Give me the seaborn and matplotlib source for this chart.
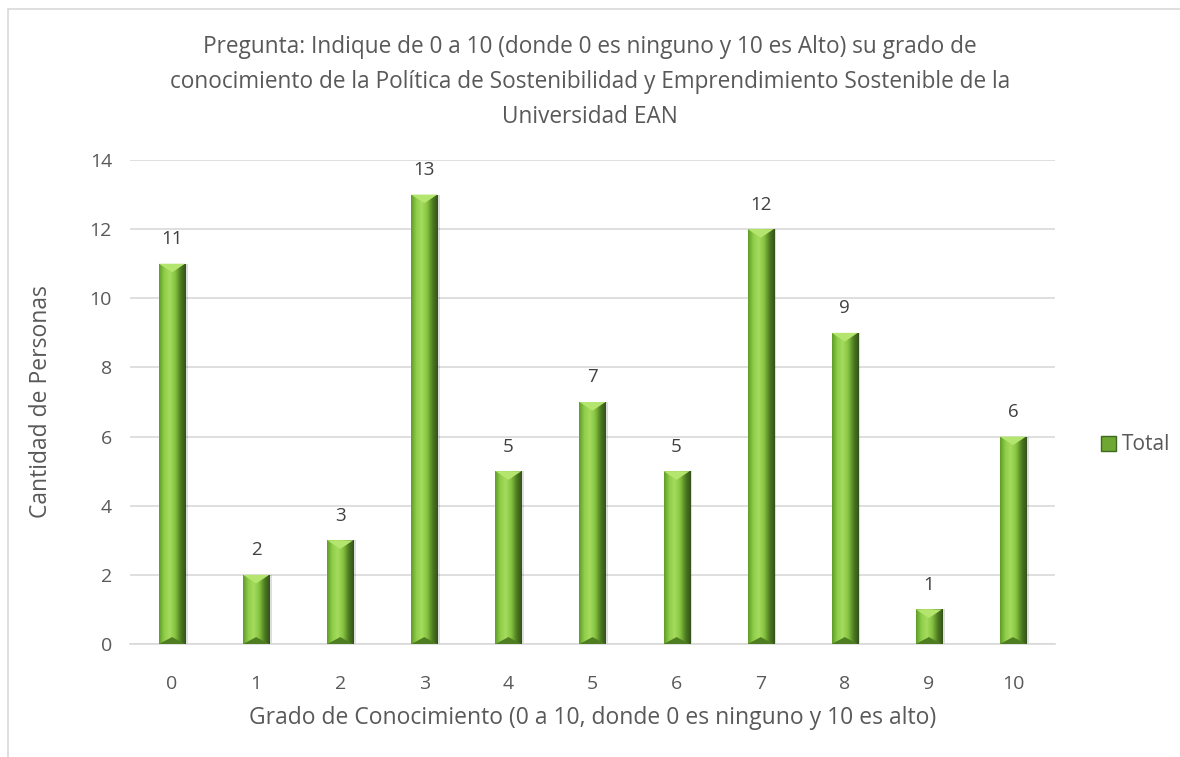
import matplotlib
matplotlib.use("Agg")
import matplotlib.pyplot as plt
import seaborn as sns
import numpy as np
import pandas as pd
from matplotlib.patches import Rectangle, Patch
from matplotlib.colors import LinearSegmentedColormap

categories = ["0", "1", "2", "3", "4", "5", "6", "7", "8", "9", "10"]
values = [11, 2, 3, 13, 5, 7, 5, 12, 9, 1, 6]
yticks = [0, 2, 4, 6, 8, 10, 12, 14]

title = ("Pregunta: Indique de 0 a 10 (donde 0 es ninguno y 10 es Alto) su grado de\n"
         "conocimiento de la Política de Sostenibilidad y Emprendimiento Sostenible de la\n"
         "Universidad EAN")
xlabel = "Grado de Conocimiento (0 a 10, donde 0 es ninguno y 10 es alto)"
ylabel = "Cantidad de Personas"
series_name = "Total"

sns.set_theme(style="white")
plt.rcParams['font.family'] = ['Open Sans', 'DejaVu Sans']

df = pd.DataFrame({"cat": categories, "val": values})

fig = plt.figure(figsize=(11.8, 7.57), dpi=100)
ax = fig.add_axes([130/1180, 1 - 644/757, (1055-130)/1180, (644-160)/757])

sns.barplot(data=df, x="cat", y="val", order=categories, color="#86c441",
            width=0.31, ax=ax, saturation=1, edgecolor="none", zorder=3)

# gradient overlay on each bar (cylinder-like shading)
cmap = LinearSegmentedColormap.from_list(
    "g", ["#5e9a28", "#8fce4a", "#a6dc5e", "#86c441", "#4f7d22", "#33501a"])
grad = np.linspace(0, 1, 256).reshape(1, -1)
for p in ax.patches:
    x0, y0 = p.get_x(), p.get_y()
    w, h = p.get_width(), p.get_height()
    sh = Rectangle((x0 + w * 0.1, y0), w, h, facecolor="#000000", alpha=0.13,
                   zorder=2, edgecolor="none")
    ax.add_patch(sh)
    im = ax.imshow(grad, extent=[x0, x0 + w, y0, y0 + h], aspect="auto",
                   cmap=cmap, zorder=4, interpolation="bicubic")
    im.set_clip_path(p)
    ax.fill([x0, x0 + w, x0 + w / 2], [y0 + h, y0 + h, y0 + h - 0.25],
            color="#b4e56e", zorder=5, lw=0)
    ax.fill([x0, x0 + w, x0 + w / 2], [y0, y0, y0 + 0.2],
            color="#4f7d22", zorder=5, lw=0)
    ax.text(x0 + w / 2, y0 + h + 0.45, f"{int(h)}", ha="center", va="bottom",
            fontsize=13.5, color="#404040", zorder=6)

ax.set_xlim(-0.5, len(categories) - 0.5)
ax.set_ylim(0, 14)
ax.set_yticks(yticks)
ax.set_yticklabels([str(t) for t in yticks])
ax.yaxis.grid(True, color="#d9d9d9", lw=1.2, zorder=0)
ax.set_axisbelow(True)
for s in ["top", "right", "left"]:
    ax.spines[s].set_visible(False)
ax.spines["bottom"].set_color("#d9d9d9")
ax.spines["bottom"].set_linewidth(1.2)
ax.tick_params(axis="both", length=0, labelsize=14, colors="#595959")
ax.tick_params(axis="x", pad=22)
ax.tick_params(axis="y", pad=13)
ax.set_xlabel(xlabel, fontsize=16.5, color="#595959", labelpad=10)
ax.set_ylabel(ylabel, fontsize=16.5, color="#595959", labelpad=26)

fig.text(0.5, 1 - 82/757, title, ha="center", va="center", fontsize=16.3,
         color="#595959", linespacing=1.6)

handle = Patch(facecolor="#6ea832", edgecolor="#3d6a1c")
fig.legend([handle], [series_name], loc="center left",
           bbox_to_anchor=(1082/1180, 1 - 445/757), frameon=False,
           fontsize=15, labelcolor="#595959", handlelength=0.75,
           handleheight=0.75, handletextpad=0.25)

fig.add_artist(Rectangle((8/1180, -0.02), 1.0, 1 - 9/757 + 0.02,
                         transform=fig.transFigure, fill=False,
                         edgecolor="#d9d9d9", lw=1.2))

fig.savefig("out.png", dpi=100, facecolor="white")
